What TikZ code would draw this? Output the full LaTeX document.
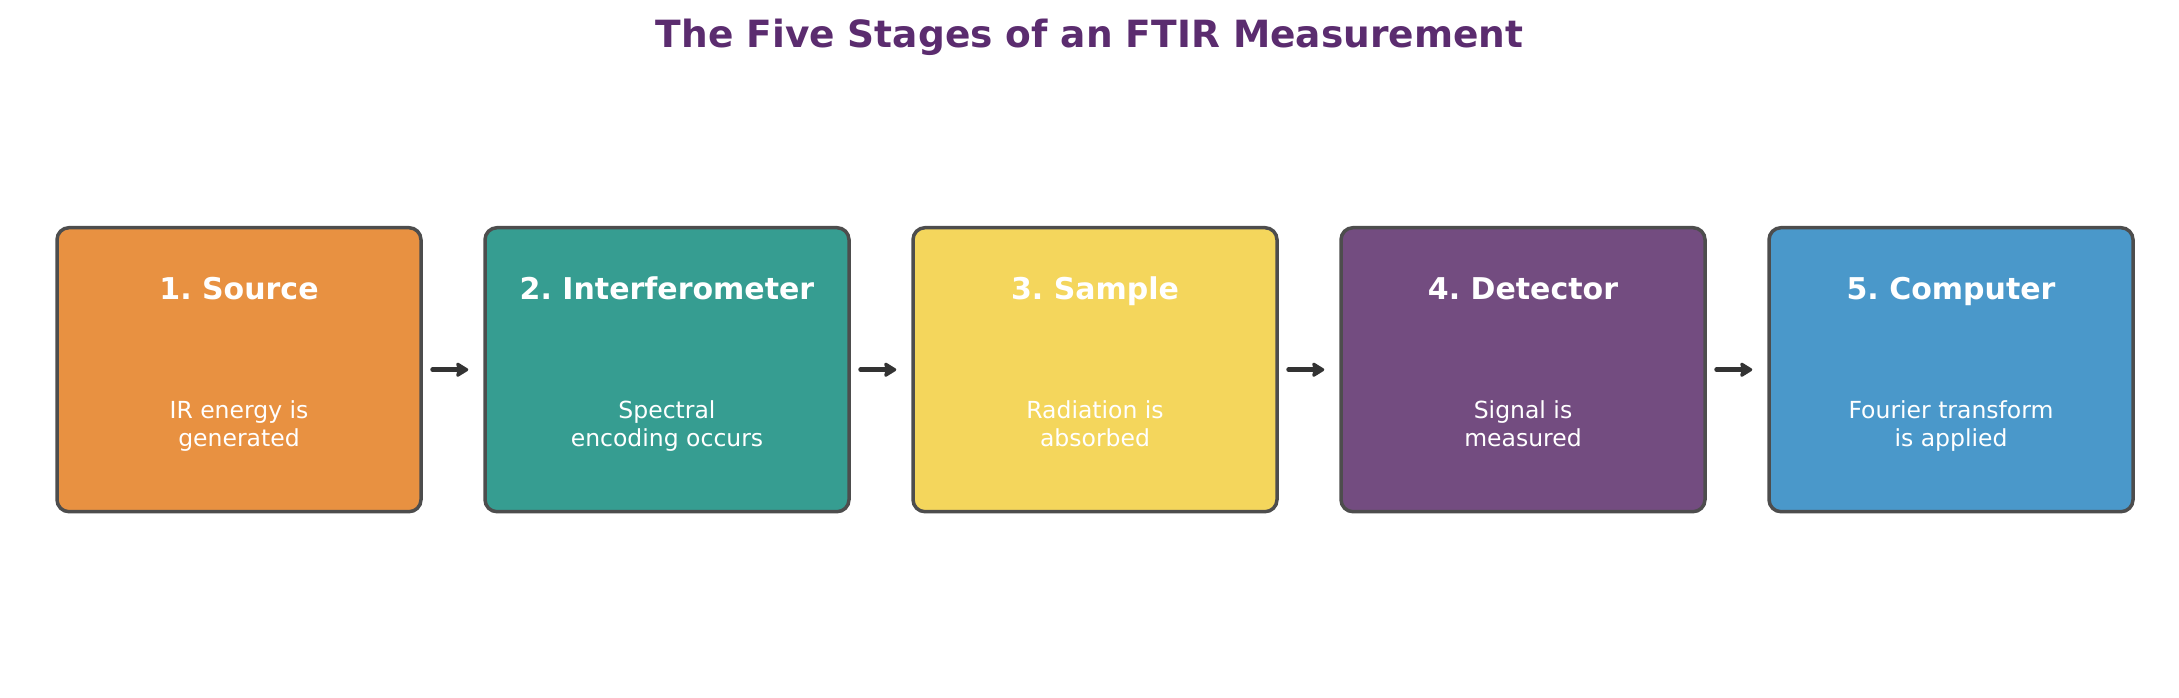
\documentclass[tikz,border=0pt]{standalone}
\usepackage{fontspec}
\setmainfont{DejaVu Sans}
\usetikzlibrary{arrows.meta,positioning}
\definecolor{titlepurple}{HTML}{5B2C6F}
\definecolor{stageorange}{HTML}{E89141}
\definecolor{stageteal}{HTML}{369D91}
\definecolor{stageyellow}{HTML}{F4D65C}
\definecolor{stagepurple}{HTML}{734C80}
\definecolor{stageblue}{HTML}{4A98CA}
\definecolor{boxedge}{HTML}{4D4D4D}
\definecolor{arrowgray}{HTML}{333333}
\frenchspacing
\tikzset{
  stagebox/.style={draw=boxedge, line width=3.5pt, rounded corners=12pt,
    minimum width=364pt, minimum height=284pt, inner sep=0pt},
  stagetitle/.style={text=white, anchor=base, font=\bfseries\fontsize{30}{34}\selectfont},
  stagetext/.style={text=white, align=center, anchor=base, font=\fontsize{23.5}{28}\selectfont},
  flow/.style={-{Stealth[length=14pt,width=17pt,inset=2pt,round]}, line width=5pt,
    line cap=round, draw=arrowgray, shorten <=10pt, shorten >=15pt}
}
\begin{document}
\begin{tikzpicture}[x=1pt,y=-1pt]
\useasboundingbox (0,0) rectangle (2179,697);
\newcommand*{\gap}{428}
\node[text=titlepurple, anchor=base, font=\bfseries\fontsize{37.5}{42}\selectfont] (title) at (1089.5,47.5) {The Five Stages of an FTIR Measurement};

\foreach \i/\col/\name/\desc in {
    1/stageorange/Source/{IR energy is\\generated},
    2/stageteal/Interferometer/{Spectral\\encoding occurs},
    3/stageyellow/Sample/{Radiation is\\absorbed},
    4/stagepurple/Detector/{Signal is\\measured},
    5/stageblue/Computer/{Fourier transform\\is applied}}
{
  \node[stagebox, fill=\col] (box\i) at (239 + \gap*\i - \gap, 369.7) {};
  \node[stagetitle] (head\i) at (239 + \gap*\i - \gap, 299.5) {\i. \name};
  \node[stagetext] (desc\i) at (239 + \gap*\i - \gap, 446.5) {\desc};
}

\foreach \i [evaluate=\i as \j using int(\i+1)] in {1,...,4}
  \draw[flow] (box\i.east) -- (box\j.west);
\end{tikzpicture}
\end{document}
